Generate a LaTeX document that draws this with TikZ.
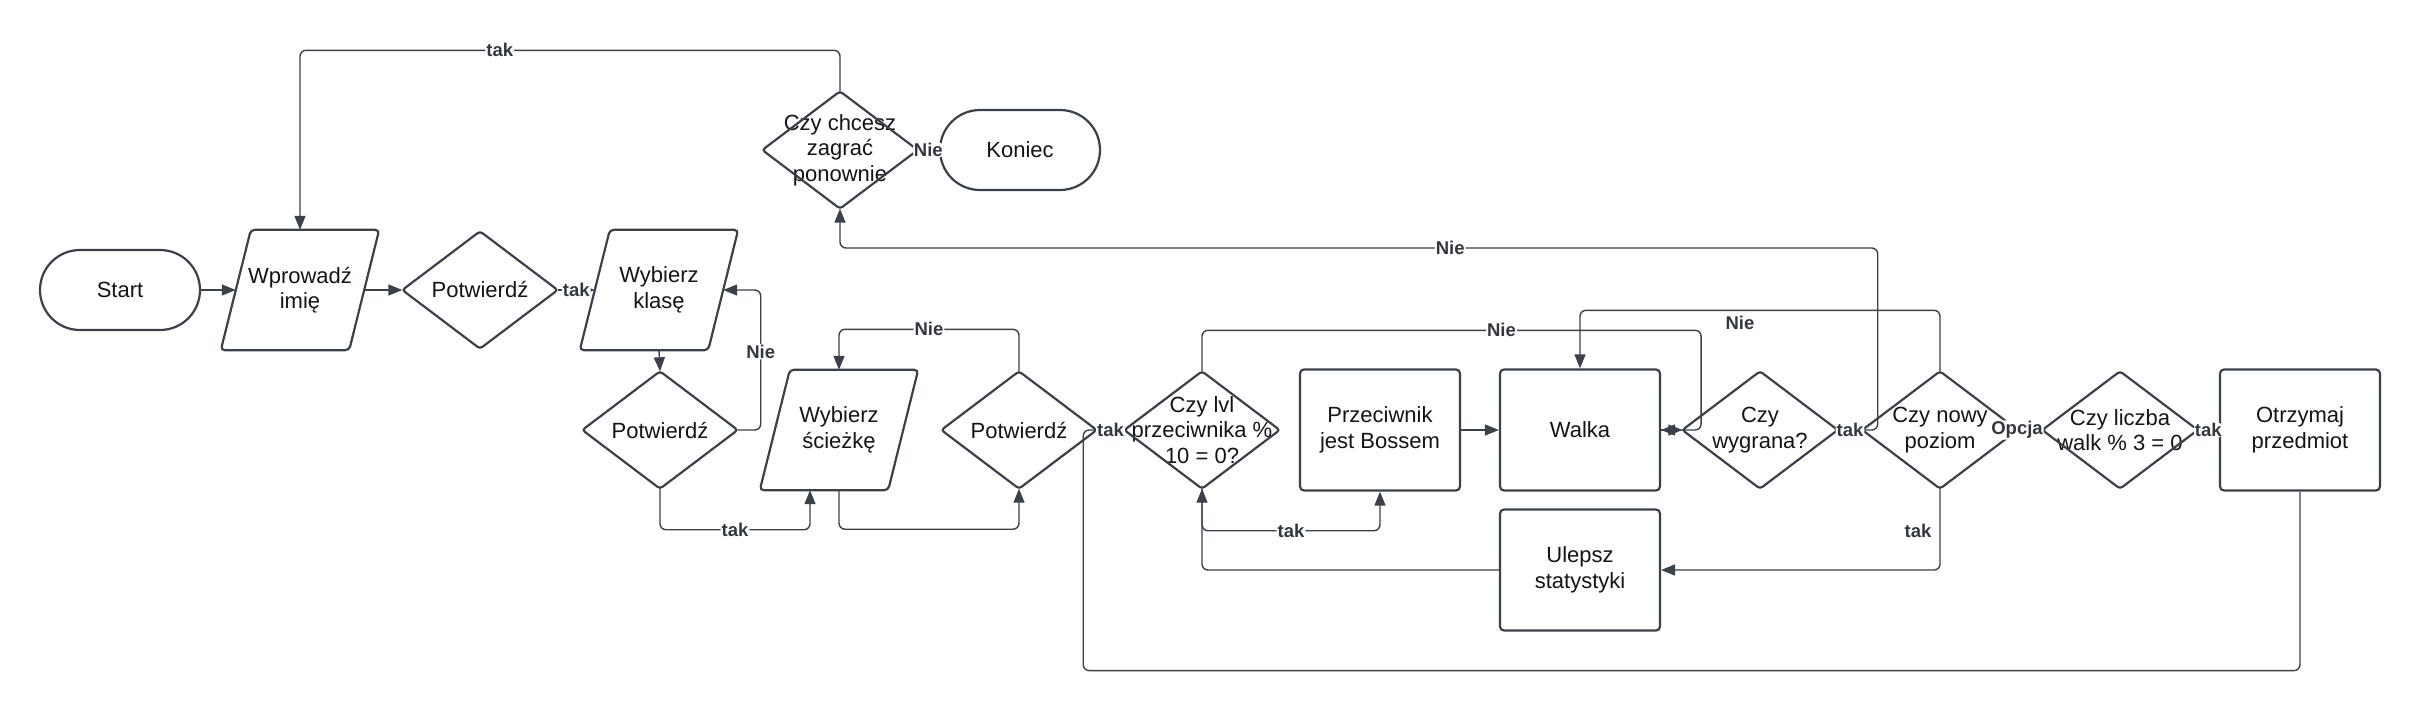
\documentclass[tikz,border=0pt]{standalone}
\usepackage{fontspec}
\setmainfont{Liberation Sans}
\usetikzlibrary{arrows.meta,calc}
\definecolor{lc}{HTML}{3A414A}
\definecolor{tc}{HTML}{141414}
\definecolor{lbc}{HTML}{333840}
\begin{document}
\begin{tikzpicture}[x=1pt,y=-1pt,
  shp/.style={draw=lc, line width=2.2pt},
  txt/.style={font=\fontsize{22}{25.5}\selectfont, text=tc, align=center, inner sep=0pt},
  term/.style={txt, shp, rounded corners=40pt, minimum width=160pt, minimum height=80pt},
  box/.style={txt, shp, rounded corners=4pt, minimum width=160pt, minimum height=121pt},
  para/.style={txt, minimum width=128pt, minimum height=120pt},
  dia/.style={txt, minimum width=155pt, minimum height=117pt},
  conn/.style={draw=lc, line width=1.4pt, rounded corners=6pt, -{Triangle[length=14pt,width=11pt]}},
  lab/.style={font=\fontsize{18.5}{20}\bfseries\selectfont, text=lbc, fill=white, inner sep=1pt},
  labnf/.style={font=\fontsize{18.5}{20}\bfseries\selectfont, text=lbc, inner sep=1pt},
]
\fill[white] (0,0) rectangle (2420,710);
\useasboundingbox (0,0) rectangle (2420,710);

% nodes
\node[term] (start) at (120,290) {Start};
\node[para] (wpr) at (300,290) {Wprowadź\\imię};
\node[dia] (p1) at (480,290) {Potwierdź};
\node[para] (wk) at (659,290) {Wybierz\\klasę};
\node[dia] (p2) at (660,430) {Potwierdź};
\node[para] (ws) at (839,430) {Wybierz\\ścieżkę};
\node[dia] (p3) at (1019,430) {Potwierdź};
\node[dia] (lvl) at (1202,430) {Czy lvl\\przeciwnika \%\\10 = 0?};
\node[box] (prz) at (1380,430) {Przeciwnik\\jest Bossem};
\node[box] (walka) at (1580,430) {Walka};
\node[dia] (wyg) at (1760,430) {Czy\\wygrana?};
\node[dia] (nowy) at (1940,430) {Czy nowy\\poziom};
\node[dia] (licz) at (2120,430) {Czy liczba\\walk \% 3 = 0};
\node[box] (otrz) at (2300,430) {Otrzymaj\\przedmiot};
\node[box] (ulep) at (1580,570) {Ulepsz\\statystyki};
\node[dia] (chce) at (840,150) {Czy chcesz\\zagrać\\ponownie};
\node[term] (kon) at (1020,150) {Koniec};

% shapes
\foreach \n in {p1,p2,p3,lvl,wyg,nowy,licz,chce}
  \draw[shp, rounded corners=3pt] (\n.north) -- (\n.east) -- (\n.south) -- (\n.west) -- cycle;
\foreach \n in {wpr,wk,ws}
  \draw[shp, rounded corners=4pt] ([xshift=-15pt]\n.south west) -- ([xshift=15pt]\n.north west) -- ([xshift=15pt]\n.north east) -- ([xshift=-15pt]\n.south east) -- cycle;

% connectors
\draw[conn] (start.east) -- (wpr.west);
\draw[conn] (wpr.east) -- (p1.west);
\draw[conn] (p1.east) -- node[lab]{tak} (wk.west);
\draw[conn] (wk.south) -- (p2.north);
\draw[conn] (p2.east) -- ++(23,0) |- node[lab,pos=0.28]{Nie} (wk.east);
\draw[conn] (p2.south) -- ++(0,41) -| node[lab,pos=0.25]{tak} ([xshift=-29pt]ws.south);
\draw[conn] (ws.south) -- ++(0,39) -| (p3.south);
\draw[conn] (p3.north) -- ++(0,-42) -| node[lab,pos=0.25]{Nie} (ws.north);
\draw[conn] (otrz.south) -- ++(0,179) -| ([xshift=-13.5pt]p3.east) -- (lvl.west);
\draw[conn] (p3.east) -- node[lab]{tak} (lvl.west);
\draw[conn] (lvl.north) -- ++(0,-41) -| node[lab,pos=0.3]{Nie} ([xshift=40pt]walka.east) -- (walka.east);
\draw[conn] (walka.east) -- (wyg.west);
\draw[conn] (lvl.south) -- ++(0,42) -| node[lab,pos=0.25]{tak} (prz.south);
\draw[conn] (prz.east) -- (walka.west);
\draw[conn] (ulep.west) -| (lvl.south);
\draw[conn] (nowy.south) |- (ulep.east);
\node[labnf] (taknowy) at (1918,531) {tak};
\draw[conn] (nowy.north) -- ++(0,-61) -| (walka.north);
\node[labnf] (nienowy) at (1740,323) {Nie};
\draw[conn] (wyg.east) -- ++(40,0) -- ++(0,-182) -| node[lab,pos=0.206]{Nie} (chce.south);
\draw[conn] (wyg.east) -- node[lab]{tak} (nowy.west);
\draw[conn] (chce.north) -- ++(0,-41) -| node[lab,pos=0.315]{tak} (wpr.north);
\draw[conn] (chce.east) -- node[lab]{Nie} (kon.west);
\draw[conn] (nowy.east) -- node[lab,xshift=-13pt]{Opcja} (licz.west);
\draw[conn] (licz.east) -- node[lab]{tak} (otrz.west);
\end{tikzpicture}
\end{document}
